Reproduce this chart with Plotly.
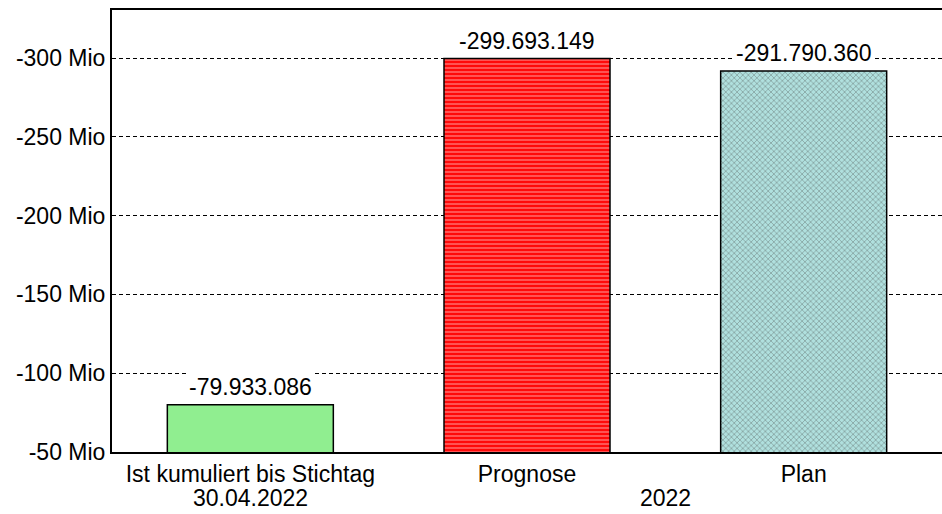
import plotly.graph_objects as go

categories = ["Ist kumuliert bis Stichtag", "Prognose", "Plan"]
values = [-79933086, -299693149, -291790360]
groups = ["30.04.2022", "2022"]
group_pos = [0, 1.5]
tick_vals = [-300e6, -250e6, -200e6, -150e6, -100e6, -50e6]
tick_text = ["-300 Mio", "-250 Mio", "-200 Mio", "-150 Mio", "-100 Mio", "-50 Mio"]

def fmt(v):
    return f"{v:,}".replace(",", ".")

FONT = "Liberation Sans, Arial"
FS = 23
colors = ["#90EE90", "#FF0A0A", "#B0E0DE"]
pat_shape = ["", "-", "x"]
pat_fg = ["#90EE90", "#E00000", "#FFFFFF"]

fig = go.Figure()
fig.add_trace(go.Bar(
    x=list(range(len(categories))), y=values,
    width=0.6,
    marker=dict(color=colors, line=dict(color="black", width=1.5),
                pattern=dict(shape=pat_shape, fgcolor=pat_fg, size=4, solidity=0.3)),
))

for i, v in enumerate(values):
    fig.add_annotation(x=i, y=v, xref="x", yref="y", yanchor="bottom", yshift=3,
                       text=fmt(v), showarrow=False, bgcolor="white", borderpad=1,
                       font=dict(family=FONT, size=FS, color="black"))

for g, p in zip(groups, group_pos):
    fig.add_annotation(x=p, y=0, xref="x", yref="paper", yshift=-32, yanchor="top",
                       text=g, showarrow=False, borderpad=0,
                       font=dict(family=FONT, size=FS, color="black"))

fig.update_layout(
    width=942, height=514,
    margin=dict(l=112, r=0, t=10, b=62),
    paper_bgcolor="white", plot_bgcolor="white",
    showlegend=False,
    font=dict(family=FONT, size=FS, color="black"),
)
fig.update_xaxes(
    range=[-0.5, 2.5], tickvals=list(range(len(categories))), ticktext=categories,
    showline=True, linecolor="black", linewidth=2, mirror=True,
    showgrid=False, ticks="", zeroline=False,
)
fig.update_yaxes(
    range=[-50e6, -330.5e6], tickvals=tick_vals, ticktext=tick_text,
    showline=True, linecolor="black", linewidth=2,
    showgrid=True, gridcolor="black", griddash="4px,3px", gridwidth=1,
    ticks="", zeroline=False,
)
fig.write_html("out.html")
